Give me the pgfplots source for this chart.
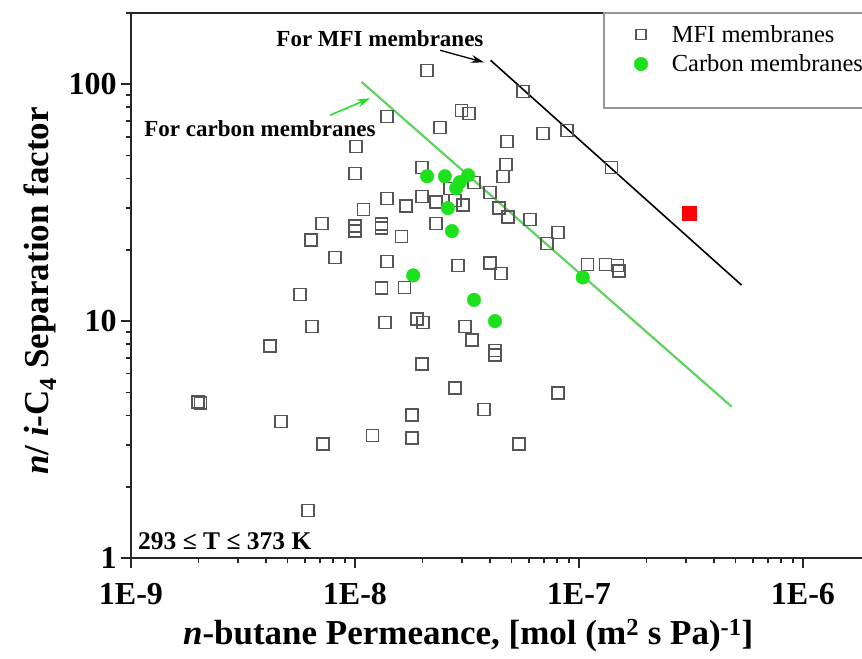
\documentclass[border=0pt]{standalone}
\usepackage{fontspec}
\setmainfont{Liberation Serif}
\usepackage{pgfplots}
\pgfplotsset{compat=1.18}
\usetikzlibrary{arrows.meta}
\definecolor{sqgray}{RGB}{85,85,85}
\definecolor{cgreen}{RGB}{30,225,30}
\definecolor{lgreen}{RGB}{95,210,95}
\definecolor{legbox}{RGB}{150,150,150}
\begin{document}
\begin{tikzpicture}
\begin{axis}[
  scale only axis, width=739.4pt, height=545pt,
  xmode=log, ymode=log,
  xmin=1e-9, xmax=2e-6, ymin=1, ymax=200,
  xtick={1e-9,1e-8,1e-7,1e-6}, xticklabels={1E-9,1E-8,1E-7,1E-6},
  ytick={1,10,100}, yticklabels={1,10,100},
  minor xtick={2e-9,3e-9,4e-9,5e-9,6e-9,7e-9,8e-9,9e-9,2e-8,3e-8,4e-8,5e-8,6e-8,7e-8,8e-8,9e-8,2e-7,3e-7,4e-7,5e-7,6e-7,7e-7,8e-7,9e-7,2e-6},
  minor ytick={2,3,4,5,6,7,8,9,20,30,40,50,60,70,80,90,200},
  tick align=outside, xtick pos=bottom, ytick pos=left,
  major tick length=10pt, minor tick length=5.5pt,
  every tick/.style={black!85, line width=1.6pt},
  axis line style={line width=2.2pt, black!85},
  ticklabel style={font=\bfseries\fontsize{32}{38}\selectfont},
  xticklabel style={yshift=-12pt},
  yticklabel style={xshift=-1pt},
  xlabel={{\itshape n}-butane Permeance, [mol (m\textsuperscript{2} s Pa)\textsuperscript{-1}]},
  ylabel={{\itshape n}/ {\itshape i}-C\textsubscript{4} Separation factor},
  xlabel style={font=\bfseries\fontsize{35}{40}\selectfont, at={(axis description cs:0.456,-0.143)}, anchor=center},
  ylabel style={font=\bfseries\fontsize{35}{40}\selectfont, at={(axis description cs:-0.123,0.49)}, anchor=center},
  legend style={at={(axis description cs:0.656,0.987)}, anchor=north west, draw=none, fill=none,
    font=\fontsize{24.5}{29}\selectfont, row sep=7pt, column sep=22pt, inner xsep=18pt, inner ysep=3pt, legend cell align=left},
  clip=false,
]
\draw[legbox, line width=1.2pt] (axis description cs:0.6397,1) rectangle (axis description cs:1.02,0.8257);
\addplot[lgreen, line width=2.2pt, forget plot] coordinates {(1.071e-8,102.3) (4.81e-7,4.35)};
\addplot[black, line width=1.6pt, forget plot] coordinates {(4.03e-8,126.3) (5.32e-7,14.2)};
\addplot[only marks, mark=square, mark size=6pt, draw=sqgray, line width=1.3pt,
  legend image code/.code={\draw[mark=square, mark size=5pt, sqgray, line width=1.2pt] plot coordinates {(0.3cm,0cm)};}] coordinates {
(2.10e-8,114.6) (5.62e-8,93.4) (3.00e-8,77.6) (3.23e-8,75.4) (1.39e-8,73.3)
(2.40e-8,65.9) (6.91e-8,62.1) (8.84e-8,63.9) (1.01e-8,54.7) (4.77e-8,57.5)
(1.00e-8,42.1) (1.99e-8,44.6) (4.72e-8,45.9) (4.58e-8,40.9) (1.40e-7,44.6)
(3.40e-8,38.6) (2.66e-8,36.4) (4.01e-8,35.0) (1.39e-8,33.0) (1.69e-8,30.6)
(1.99e-8,33.7) (2.30e-8,31.8) (2.80e-8,32.4) (3.04e-8,30.9) (4.40e-8,30.0)
(4.82e-8,27.5) (6.04e-8,26.9) (8.06e-8,23.7) (7.20e-8,21.3) (1.09e-8,29.7)
(7.12e-9,25.9) (1.00e-8,25.2) (1.00e-8,24.0) (1.31e-8,25.7) (1.31e-8,24.7)
(1.61e-8,22.8) (2.30e-8,25.9) (6.36e-9,22.0) (8.14e-9,18.6) (1.39e-8,17.9)
(2.88e-8,17.2) (4.01e-8,17.6) (4.49e-8,15.9) (1.09e-7,17.4) (1.31e-7,17.4)
(1.49e-7,17.2) (1.51e-7,16.3) (5.68e-9,13.0) (1.31e-8,13.8) (1.66e-8,13.9)
(1.36e-8,9.9) (1.89e-8,10.2) (2.01e-8,9.9) (6.43e-9,9.48) (4.17e-9,7.85)
(3.10e-8,9.48) (3.33e-8,8.32) (4.22e-8,7.54) (4.22e-8,7.19) (1.99e-8,6.59)
(1.99e-9,4.55) (2.05e-9,4.51) (2.80e-8,5.22) (3.77e-8,4.25) (8.06e-8,4.97)
(4.67e-9,3.78) (1.80e-8,4.01) (1.20e-8,3.30) (1.80e-8,3.21) (7.20e-9,3.03)
(5.40e-8,3.03) (6.17e-9,1.59)
};
\addlegendentry{MFI membranes}
\addplot[only marks, mark=*, mark size=6.8pt, draw=cgreen, fill=cgreen] coordinates {
(2.10e-8,40.9) (2.52e-8,40.9) (3.20e-8,41.3) (2.94e-8,38.6) (2.83e-8,36.4)
(2.60e-8,30.0) (2.71e-8,24.0) (1.82e-8,15.6) (3.40e-8,12.3) (4.22e-8,10.0)
(1.04e-7,15.3)
};
\addlegendentry{Carbon membranes}
\addplot[only marks, mark=square*, mark size=7pt, draw=red, fill=red, forget plot] coordinates {(3.10e-7,28.6)};
\node[font=\bfseries\fontsize{23}{28}\selectfont, anchor=center] at (axis cs:1.293e-8,156.4) {For MFI membranes};
\node[font=\bfseries\fontsize{23}{28}\selectfont, anchor=center] at (axis cs:3.77e-9,65.2) {For carbon membranes};
\draw[-{Stealth[length=13pt,width=8pt]}, line width=1.3pt, black] (axis cs:2.40e-8,139.2) -- (axis cs:3.77e-8,123.8);
\draw[-{Stealth[length=13pt,width=8pt]}, line width=1.5pt, cgreen] (axis cs:7.73e-9,74.0) -- (axis cs:1.167e-8,87.3);
\node[font=\bfseries\fontsize{25.5}{30}\selectfont, anchor=base west, inner sep=0pt] at (axis description cs:0.0095,0.0165) {293 ≤ T ≤ 373 K};
\end{axis}
\pgfresetboundingbox
\path[use as bounding box] ([xshift=-131pt,yshift=-101pt]current axis.south west) rectangle ([xshift=-8.4pt,yshift=13pt]current axis.north east);
\end{tikzpicture}
\end{document}
